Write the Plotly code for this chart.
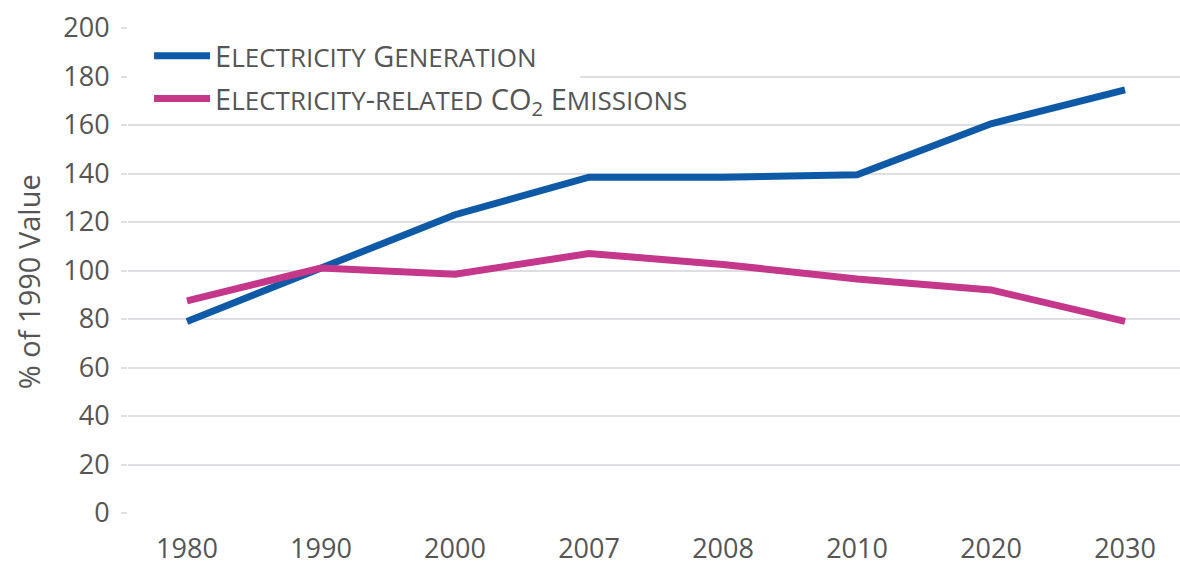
import plotly.graph_objects as go

# Years along the horizontal (categorical) axis
years = ["1980", "1990", "2000", "2007", "2008", "2010", "2020", "2030"]

# Index values, % of 1990
generation = [79, 101, 123, 138.5, 138.5, 139.5, 160.5, 174.5]
co2_emissions = [87.5, 101, 98.5, 107, 102.5, 96.5, 92, 79]

y_ticks = [0, 20, 40, 60, 80, 100, 120, 140, 160, 180, 200]

BLUE = "#0F5AA6"
PINK = "#C4378A"
GRID = "#DEDEE3"
TEXT = "#555555"
FONT = "Open Sans"
TICK_SIZE = 27


def small_caps(text, small=26):
    """Render text in small caps using HTML spans."""
    out = []
    for word in text.split(" "):
        parts = []
        i = 0
        while i < len(word):
            ch = word[i]
            if ch.isupper() or not ch.isalpha():
                parts.append(ch)
                i += 1
            else:
                j = i
                while j < len(word) and word[j].isalpha() and not word[j].isupper():
                    j += 1
                parts.append(
                    f"<span style='font-size:{small}px'>{word[i:j].upper()}</span>"
                )
                i = j
        out.append("".join(parts))
    return " ".join(out)


gen_label = small_caps("Electricity Generation")
co2_label = (
    small_caps("Electricity-related")
    + " CO<sub>2</sub> "
    + small_caps("Emissions")
)

fig = go.Figure()
fig.add_trace(
    go.Scatter(
        x=years,
        y=generation,
        mode="lines",
        name=gen_label,
        legendgroup="gen",
        line=dict(color=BLUE, width=7),
    )
)
fig.add_trace(
    go.Scatter(
        x=years,
        y=co2_emissions,
        mode="lines",
        name=co2_label,
        legendgroup="co2",
        line=dict(color=PINK, width=7),
    )
)

fig.update_layout(
    width=1180,
    height=565,
    margin=dict(l=128, r=0, t=28, b=52),
    paper_bgcolor="white",
    plot_bgcolor="white",
    font=dict(family=FONT, color=TEXT, size=TICK_SIZE),
    showlegend=True,
    legend=dict(
        x=0.02,
        y=0.995,
        xanchor="left",
        yanchor="top",
        bgcolor="rgba(0,0,0,0)",
        font=dict(family=FONT, size=29, color=TEXT),
        tracegroupgap=2,
        itemwidth=56,
    ),
    # white panel behind the legend text, masking the gridlines there
    shapes=[
        dict(
            type="rect",
            xref="paper",
            yref="paper",
            x0=0,
            x1=0.43,
            y0=0.84,
            y1=0.99,
            fillcolor="white",
            line=dict(width=0),
            layer="above",
        )
    ],
    xaxis=dict(
        type="category",
        range=[-0.44, 7.41],
        automargin=False,
        showgrid=False,
        showline=False,
        zeroline=False,
        ticks="",
        ticklabelstandoff=17,
        tickfont=dict(family=FONT, size=TICK_SIZE, color=TEXT),
    ),
    yaxis=dict(
        range=[0, 200],
        tickvals=y_ticks,
        automargin=False,
        showgrid=True,
        gridcolor=GRID,
        gridwidth=2,
        zeroline=False,
        showline=False,
        ticks="outside",
        ticklen=6,
        tickwidth=2,
        tickcolor=GRID,
        ticklabelstandoff=6,
        tickfont=dict(family=FONT, size=TICK_SIZE, color=TEXT),
    ),
    annotations=[
        dict(
            text="% of 1990 Value",
            xref="paper",
            yref="paper",
            x=0,
            y=0.476,
            xshift=-100,
            xanchor="center",
            yanchor="middle",
            textangle=-90,
            showarrow=False,
            font=dict(family=FONT, size=29, color=TEXT),
        )
    ],
)

fig.write_html("out.html")
